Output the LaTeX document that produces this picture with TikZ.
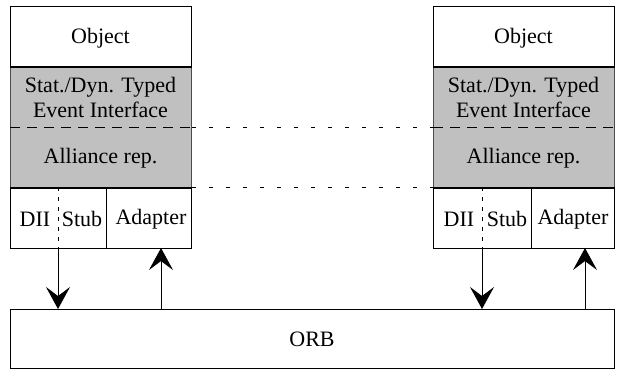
\documentclass[tikz,border=0pt]{standalone}
\usepackage{fontspec}
\setmainfont{Liberation Serif}
\usetikzlibrary{arrows.meta}
\definecolor{boxgray}{HTML}{C0C0C0}
\begin{document}
\begin{tikzpicture}[x=1pt,y=-1pt,
  every node/.style={font=\fontsize{22}{26}\selectfont, inner sep=0pt},
  box/.style={draw=black, line width=0.9pt, fill=white, anchor=north west},
  graybox/.style={draw=black!70, line width=0.9pt, fill=boxgray, anchor=north west},
  lbl/.style={align=center},
  longdash/.style={line width=0.9pt, dash pattern=on 10pt off 7pt},
  shortdash/.style={line width=0.9pt, dash pattern=on 4pt off 13pt},
  vdash/.style={line width=0.9pt, dash pattern=on 4pt off 6pt},
  arr/.style={line width=0.9pt, -{Stealth[length=22pt, width=24pt, inset=9pt]}}
]
\useasboundingbox (0,0) rectangle (617,370);
% left stack
\node[box, minimum width=181pt, minimum height=60pt] (objL) at (10,6) {};
\node[lbl] at (100.5,38) {Object};
\node[graybox, minimum width=181pt, minimum height=121pt] (grL) at (10,66) {};
\node[lbl] (evL) at (100.5,97) {Stat./Dyn. Typed\\[-1pt]Event Interface};
\node[lbl] (alL) at (100.5,158) {Alliance rep.};
\node[box, minimum width=96pt, minimum height=61pt] (dsL) at (10,187) {};
\node[box, minimum width=85pt, minimum height=61pt] (adL) at (106,187) {};
\node[lbl] at (151,219) {Adapter};
\node[lbl] at (35,219) {DII};
\node[lbl] at (82,219) {Stub};
\coordinate (divL) at (58,187);
\draw[vdash] (divL) -- (divL |- dsL.south);
\draw[line width=1.6pt] (grL.south west) -- (grL.south east);
\draw[line width=1.2pt] (objL.south west) -- (objL.south east);
% right stack
\node[box, minimum width=181pt, minimum height=60pt] (objR) at (433,6) {};
\node[lbl] at (523.5,38) {Object};
\node[graybox, minimum width=181pt, minimum height=121pt] (grR) at (433,66) {};
\node[lbl] (evR) at (523.5,97) {Stat./Dyn. Typed\\[-1pt]Event Interface};
\node[lbl] (alR) at (523.5,158) {Alliance rep.};
\node[box, minimum width=98pt, minimum height=61pt] (dsR) at (433,187) {};
\node[box, minimum width=83pt, minimum height=61pt] (adR) at (531,187) {};
\node[lbl] at (573,219) {Adapter};
\node[lbl] at (459,219) {DII};
\node[lbl] at (507,219) {Stub};
\coordinate (divR) at (482,187);
\draw[vdash] (divR) -- (divR |- dsR.south);
\draw[line width=1.6pt] (grR.south west) -- (grR.south east);
\draw[line width=1.2pt] (objR.south west) -- (objR.south east);
% dashed lines across
\coordinate (mL) at (10,127);
\coordinate (mR) at (614,127);
\draw[longdash] (mL) -- (grL.east |- mL);
\draw[longdash] (grR.west |- mR) -- (mR);
\draw[shortdash] (grL.east |- mL) -- (grR.west |- mL);
\draw[shortdash] (grL.south east) -- (grR.south west);
% ORB
\node[box, minimum width=604pt, minimum height=59pt] (orb) at (10,309) {};
\node[lbl] at (312,339) {ORB};
% arrows
\draw[arr] (divL |- dsL.south) -- (divL |- orb.north);
\draw[arr] (161,309) -- (161,248);
\draw[arr] (divR |- dsR.south) -- (divR |- orb.north);
\draw[arr] (585,309) -- (585,248);
\end{tikzpicture}
\end{document}
